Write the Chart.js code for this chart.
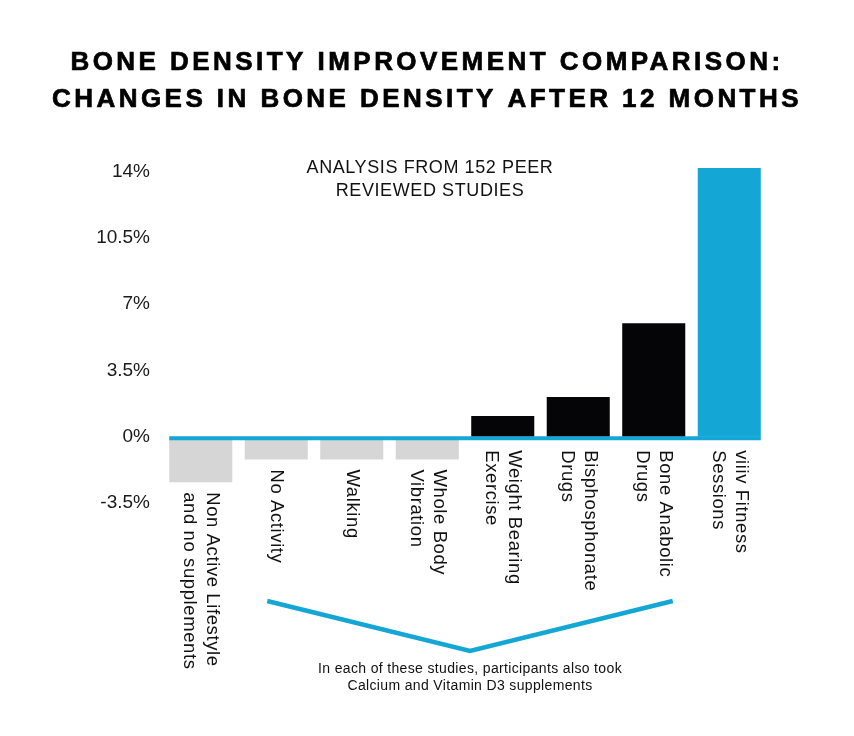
<!DOCTYPE html>
<html>
<head>
<meta charset="utf-8">
<script src="https://cdn.jsdelivr.net/npm/chart.js@4.4.1/dist/chart.umd.min.js"></script>
<style>
  html, body { margin: 0; padding: 0; background: #fff; }
  #wrap { width: 854px; height: 736px; }
</style>
</head>
<body>
<div id="wrap"><canvas id="grafico"></canvas></div>
<script>
const categorias = [
  ['Non Active Lifestyle', 'and no supplements'],
  ['No Activity'],
  ['Walking'],
  ['Whole Body', 'Vibration'],
  ['Weight Bearing', 'Exercise'],
  ['Bisphosphonate', 'Drugs'],
  ['Bone Anabolic', 'Drugs'],
  ['viiiv Fitness', 'Sessions']
];
const valores = [-2.4, -1.2, -1.2, -1.2, 1.1, 2.1, 6.0, 14.2];
const ticksY = [-3.5, 0, 3.5, 7, 10.5, 14];
const titulo = ['BONE DENSITY IMPROVEMENT COMPARISON:', 'CHANGES IN BONE DENSITY AFTER 12 MONTHS'];
const subtitulo = ['ANALYSIS FROM 152 PEER', 'REVIEWED STUDIES'];
const nota = ['In each of these studies, participants also took', 'Calcium and Vitamin D3 supplements'];
const grupoNota = [1, 6]; // first and last bar under the bracket

const cinza = '#d6d6d6', preto = '#050507', azul = '#14a7d6';
const cores = valores.map((v, i) => i === valores.length - 1 ? azul : (v < 0 ? cinza : preto));
const fonte = '"Liberation Sans", Arial, Helvetica, sans-serif';

const textos = {
  id: 'textos',
  afterDatasetsDraw(chart) {
    const { ctx, scales: { y } } = chart;
    const barras = chart.getDatasetMeta(0).data;
    const zero = y.getPixelForValue(0);

    ctx.save();
    // blue zero line, from first bar to last bar
    const primeira = barras[0], ultima = barras[barras.length - 1];
    ctx.strokeStyle = azul;
    ctx.lineWidth = 4;
    ctx.beginPath();
    ctx.moveTo(primeira.x - primeira.width / 2, zero + 1.5);
    ctx.lineTo(ultima.x + ultima.width / 2, zero + 1.5);
    ctx.stroke();

    // category labels, turned to read top to bottom
    ctx.fillStyle = '#111';
    ctx.font = '18.5px ' + fonte;
    ctx.letterSpacing = '0.6px';
    ctx.textAlign = 'left';
    ctx.textBaseline = 'middle';
    barras.forEach((barra, i) => {
      const fundo = Math.max(zero + 3.5, y.getPixelForValue(Math.min(valores[i], 0)));
      const linhas = categorias[i];
      ctx.save();
      ctx.translate(barra.x, fundo + 10);
      ctx.rotate(Math.PI / 2);
      linhas.forEach((t, k) => {
        ctx.fillText(t, 0, (k - (linhas.length - 1) / 2) * 23);
      });
      ctx.restore();
    });

    // title
    const meio = chart.width / 2;
    ctx.textAlign = 'center';
    ctx.textBaseline = 'alphabetic';
    ctx.fillStyle = '#000';
    ctx.strokeStyle = '#000';
    ctx.lineWidth = 0.7;
    ctx.font = 'bold 26px ' + fonte;
    ctx.letterSpacing = '3.45px';
    ctx.fillText(titulo[0], meio, 70);
    ctx.strokeText(titulo[0], meio, 70);
    ctx.fillText(titulo[1], meio, 107);
    ctx.strokeText(titulo[1], meio, 107);

    // subtitle inside the plot
    ctx.fillStyle = '#111';
    ctx.font = '18px ' + fonte;
    ctx.letterSpacing = '0.6px';
    ctx.fillText(subtitulo[0], 430, 173);
    ctx.fillText(subtitulo[1], 430, 196);

    // bracket under the supplemented groups
    const esq = barras[grupoNota[0]].x - 9;
    const dir = barras[grupoNota[1]].x + 19;
    const centro = (esq + dir) / 2;
    ctx.strokeStyle = azul;
    ctx.lineWidth = 4.5;
    ctx.lineJoin = 'miter';
    ctx.beginPath();
    ctx.moveTo(esq, 601);
    ctx.lineTo(centro, 651);
    ctx.lineTo(dir, 601);
    ctx.stroke();

    ctx.fillStyle = '#111';
    ctx.font = '14px ' + fonte;
    ctx.letterSpacing = '0.35px';
    ctx.fillText(nota[0], centro, 673);
    ctx.fillText(nota[1], centro, 690);
    ctx.restore();
  }
};

const grafico = new Chart(document.getElementById('grafico'), {
  type: 'bar',
  data: {
    labels: categorias,
    datasets: [{
      data: valores,
      backgroundColor: cores,
      borderWidth: 0,
      barPercentage: 0.835,
      categoryPercentage: 1
    }]
  },
  options: {
    responsive: true,
    maintainAspectRatio: false,
    animation: false,
    layout: { padding: { left: 0, right: 87, top: 166, bottom: 233 } },
    plugins: {
      legend: { display: false },
      tooltip: { enabled: false },
      title: { display: false }
    },
    scales: {
      x: { display: false },
      y: {
        min: -3.5,
        max: 14.3,
        afterFit: (s) => { s.width = 163; },
        afterBuildTicks: (s) => { s.ticks = ticksY.map(v => ({ value: v })); },
        grid: { display: false, drawTicks: false },
        border: { display: false },
        ticks: {
          padding: 13,
          color: '#1a1a1a',
          font: { family: fonte, size: 19 },
          callback: (v) => v + '%'
        }
      }
    }
  },
  plugins: [textos]
});
</script>
</body>
</html>
